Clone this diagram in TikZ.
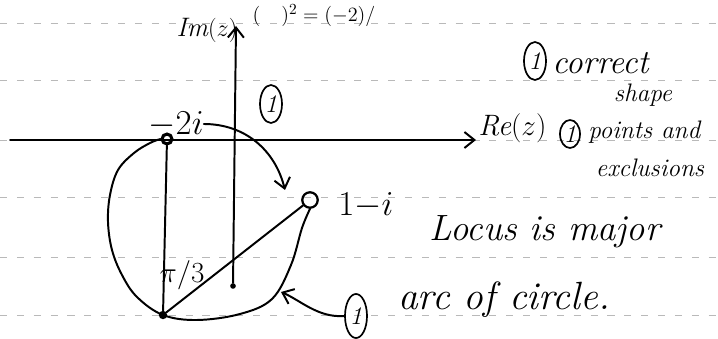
\documentclass[tikz,border=0pt]{standalone}
\usepackage{amsmath,amssymb}
\usetikzlibrary{arrows.meta,shapes.geometric}
\tikzset{
  ink/.style={line width=1.4pt, line cap=round, line join=round},
  hand/.style={inner sep=0pt, font=\fontsize{24}{28}\selectfont\itshape},
  small hand/.style={inner sep=0pt, font=\fontsize{18}{20}\selectfont\itshape},
  mark one/.style={draw, ellipse, line width=1.2pt, inner sep=0pt,
    minimum width=0.55cm, minimum height=0.95cm, font=\fontsize{18}{20}\selectfont\itshape},
  barb/.style={-{Straight Barb[length=2.5mm,width=4mm]}},
  pt/.style={circle, inner sep=0pt}
}
\begin{document}
\begin{tikzpicture}[x=0.025cm, y=-0.025cm]
\useasboundingbox (0,0) rectangle (718,339);
% ruled lines of the paper
\foreach \ly in {23,80,140,197,257,315}
  \draw[gray!55, line width=.6pt, dash pattern=on 5pt off 7pt] (0,\ly) -- (718,\ly);

% line at the top edge
\node[inner sep=0pt, anchor=north, font=\fontsize{15}{17}\selectfont] (topline) at (314,4) {$(\quad)^{2}=(-2)/$};

% points
\node[pt, draw, line width=2.2pt, minimum size=7pt] (A) at (167,139) {};
\node[pt, draw, line width=1.6pt, minimum size=11pt] (B) at (310,200) {};
\node[pt, fill, minimum size=6pt] (C) at (163,315) {};
\node[pt, fill, minimum size=4pt] (D) at (233,286) {};

% axes
\coordinate (reL) at (10,140);
\coordinate (reR) at (476,140);
\coordinate (imT) at (236,26);
\draw[ink, barb] (reL) -- (reR);
\draw[ink, barb] (D) -- (imT);
\node[inner sep=0pt, anchor=west, font=\fontsize{21}{24}\selectfont\itshape] (re) at (478,128) {Re$(z)$};
\node[inner sep=0pt, font=\fontsize{19}{22}\selectfont\itshape] (im) at (207,30) {Im$(z)$};

% major arc
\draw[ink] plot[smooth, tension=.6] coordinates {(A.west) (150,143) (134,153) (118,170) (110,195) (108,222)
  (112,250) (122,275) (137,297) (C) (197,320) (240,314) (272,299) (291,265) (302,228) (B.south)};
\draw[ink] (A) -- (C);
\draw[ink] (C) -- (B);
\node[inner sep=0pt, font=\fontsize{21}{24}\selectfont] (ang) at (182,275) {$\pi/3$};

% labels of points
\node[hand] (lA) at (176,124) {$-2i$};
\node[inner sep=0pt, anchor=west, font=\fontsize{23}{26}\selectfont] (lB) at (338,205) {$1{-}i$};
\draw[ink, barb] (lA.east) .. controls (245,124) and (275,150) .. (285,190);

% marks and notes
\node[mark one] (m1) at (271,104) {1};
\node[mark one] (m2) at (535,61) {1};
\node[hand, anchor=west] (correct) at (552,63) {correct};
\node[small hand] (shape) at (643,95) {shape};
\node[mark one, minimum width=0.5cm, minimum height=0.7cm] (m3) at (570,134) {1};
\node[small hand, anchor=west] (points) at (588,132) {points and};
\node[small hand] (excl) at (650,168) {exclusions};
\node[inner sep=0pt, font=\fontsize{26}{30}\selectfont\itshape] (locus) at (545,232) {Locus is major};
\node[mark one, minimum height=1.1cm] (m4) at (356,316) {1};
\node[inner sep=0pt, anchor=west, font=\fontsize{28}{32}\selectfont\itshape] (arcof) at (398,300) {arc of circle.};
\draw[ink, barb] (m4.west) .. controls (318,318) and (300,300) .. (281,292);
\end{tikzpicture}
\end{document}
